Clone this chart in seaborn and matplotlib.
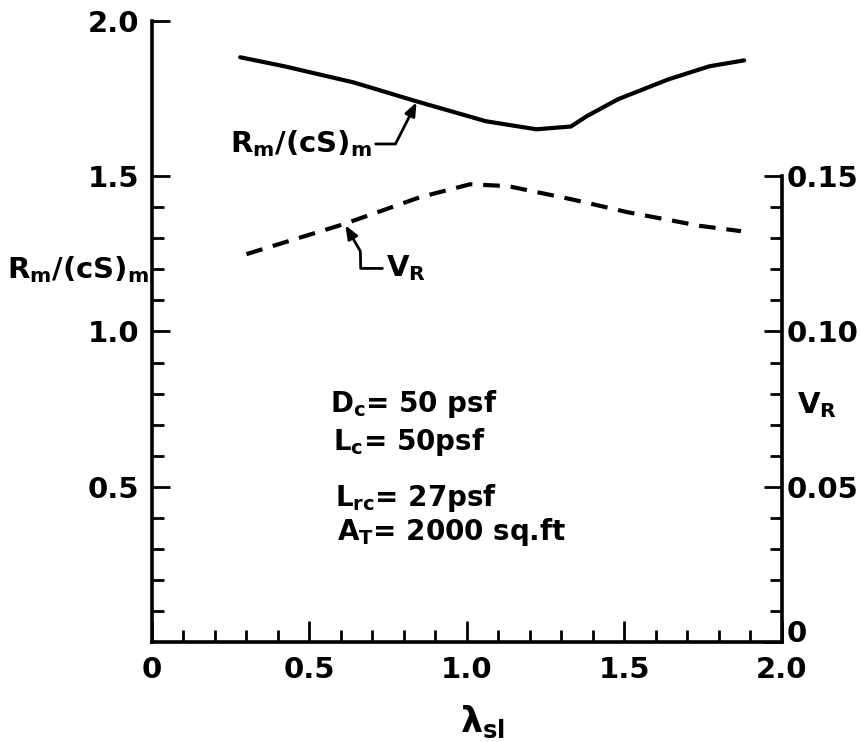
import numpy as np
import matplotlib
matplotlib.use('Agg')
import matplotlib.pyplot as plt
import matplotlib.ticker as mtick
from matplotlib.transforms import ScaledTranslation
import seaborn as sns

# R_m/(cS)_m against lambda_sl (left axis, solid)
lam_r = [0.28, 0.42, 0.64, 0.84, 1.06, 1.22, 1.33, 1.38, 1.48, 1.64, 1.77, 1.88]
r_ratio = [1.883, 1.854, 1.802, 1.741, 1.677, 1.651, 1.660, 1.693, 1.748, 1.812, 1.854, 1.873]

# V_R against lambda_sl (right axis, dashed)
lam_v = [0.30, 0.61, 0.85, 1.01, 1.13, 1.33, 1.51, 1.74, 1.87]
v_r = [0.1249, 0.1346, 0.1432, 0.1474, 0.1468, 0.1426, 0.1384, 0.1340, 0.1323]

x_ticks = [0, 0.5, 1.0, 1.5, 2.0]
x_labels = ['0', '0.5', '1.0', '1.5', '2.0']
y_ticks = [0.5, 1.0, 1.5, 2.0]
y_labels = ['0.5', '1.0', '1.5', '2.0']
v_ticks = [0, 0.05, 0.10, 0.15]
v_labels = ['0', '0.05', '0.10', '0.15']

notes = ['$D_c$= 50 psf', '$L_c$= 50psf', '$L_{rc}$= 27psf', '$A_T$= 2000 sq.ft']

sns.set_style('ticks', rc={'text.color': 'black', 'axes.labelcolor': 'black',
                           'xtick.color': 'black', 'ytick.color': 'black',
                           'axes.edgecolor': 'black'})
plt.rcParams['font.family'] = ['DejaVu Sans']
plt.rcParams['font.weight'] = 'bold'
plt.rcParams['axes.labelweight'] = 'bold'
plt.rcParams['mathtext.fontset'] = 'custom'
plt.rcParams['mathtext.rm'] = 'DejaVu Sans:bold'
plt.rcParams['mathtext.it'] = 'DejaVu Sans:bold'
plt.rcParams['mathtext.bf'] = 'DejaVu Sans:bold'
plt.rcParams['mathtext.default'] = 'regular'

fig = plt.figure(figsize=(8.61, 7.42), dpi=100)
ax = fig.add_axes([0.1765, 0.1348, 0.7317, 0.837])
ax2 = ax.twinx()

sns.lineplot(x=lam_r, y=r_ratio, ax=ax, color='black', lw=3)
sns.lineplot(x=lam_v, y=v_r, ax=ax2, color='black', lw=3, linestyle='--')
ax2.lines[0].set_dashes([4, 2.6])

ax.set_xlim(0, 2.0)
ax.set_ylim(0, 2.0)
ax2.set_ylim(0, 0.2)

# spines
for s in ['top', 'right']:
    ax.spines[s].set_visible(False)
for s in ['top', 'left', 'bottom']:
    ax2.spines[s].set_visible(False)
for s in ['left', 'bottom']:
    ax.spines[s].set_linewidth(2.6)
ax2.spines['right'].set_linewidth(2.6)
ax2.spines['right'].set_bounds(0, 0.15)

# ticks
ax.set_xticks(x_ticks)
ax.set_xticklabels(x_labels)
ax.xaxis.set_minor_locator(mtick.MultipleLocator(0.1))
ax.set_yticks(y_ticks)
ax.set_yticklabels(y_labels)
ax.yaxis.set_minor_locator(mtick.FixedLocator(np.arange(0.1, 1.45, 0.1)))
ax2.set_yticks(v_ticks)
ax2.set_yticklabels(v_labels)
ax2.yaxis.set_minor_locator(mtick.FixedLocator(np.arange(0.01, 0.145, 0.01)))

ax.tick_params(axis='x', which='major', direction='in', length=15, width=2, pad=10, labelsize=21)
ax.tick_params(axis='x', which='minor', direction='in', length=9, width=2)
ax.tick_params(axis='y', which='major', direction='in', length=13, width=2, pad=9, labelsize=21)
ax.tick_params(axis='y', which='minor', direction='in', length=8.5, width=2)
ax2.tick_params(axis='y', which='major', direction='in', length=13, width=2, pad=3, labelsize=21)
ax2.tick_params(axis='y', which='minor', direction='in', length=8.5, width=2)

# the right-hand "0" sits a little above the corner, clear of the "2.0"
zero_lab = ax2.get_yticklabels()[0]
zero_lab.set_transform(zero_lab.get_transform() + ScaledTranslation(0, 8 / 72, fig.dpi_scale_trans))

# axis labels
ax.set_xlabel('$\\lambda_{sl}$', fontsize=25, va='top')
ax.xaxis.set_label_coords(0.525, -0.1)
ax.set_ylabel('$R_m/(cS)_m$', fontsize=21, rotation=0, ha='right', va='baseline')
ax.yaxis.set_label_coords(-0.004, 0.586)
ax2.set_ylabel('$V_R$', fontsize=21, rotation=0, ha='left', va='baseline')
ax2.yaxis.set_label_coords(1.024, 0.369)

# curve labels with leaders
ax.annotate('$R_m/(cS)_m$', xy=(0.84, 1.738), xytext=(0.70, 1.576),
            ha='right', va='baseline', fontsize=21,
            arrowprops=dict(arrowstyle='-|>,head_length=1.0,head_width=0.4', mutation_scale=8,
                            color='black', lw=2, shrinkA=0, shrinkB=0, relpos=(1, 0.5),
                            connectionstyle='arc,angleA=0,angleB=0,armA=23,armB=0,rad=0'))
ax.annotate('$V_R$', xy=(0.614, 1.342), xytext=(0.742, 1.203),
            ha='left', va='center', fontsize=21,
            arrowprops=dict(arrowstyle='-|>,head_length=1.0,head_width=0.4', mutation_scale=8,
                            color='black', lw=2, shrinkA=0, shrinkB=0, relpos=(0, 0.5),
                            connectionstyle='arc,angleA=180,angleB=-60,armA=25,armB=30,rad=0'))

# load parameters
note_x = [0.566, 0.576, 0.582, 0.589]
note_y = [0.740, 0.617, 0.437, 0.328]
for tx, ty, t in zip(note_x, note_y, notes):
    ax.text(tx, ty, t, fontsize=20, va='baseline', ha='left')

plt.savefig('out.png', dpi=100)
